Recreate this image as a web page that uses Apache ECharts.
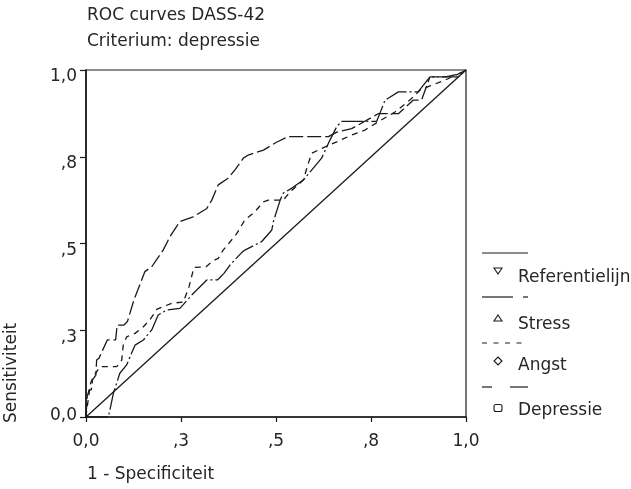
<!DOCTYPE html>
<html><head><meta charset="utf-8">
<script src="https://cdn.jsdelivr.net/npm/echarts@6/dist/echarts.min.js"></script>
<style>html,body{margin:0;padding:0;background:#fff}#c{width:631px;height:489px}</style>
</head><body><div id="c"></div>
<script>
const titleLines = ['ROC curves DASS-42', 'Criterium: depressie'];
const xAxisName = '1 - Specificiteit';
const yAxisName = 'Sensitiviteit';
const tickValues = [0, 0.25, 0.5, 0.75, 1];
const tickLabels = ['0,0', ',3', ',5', ',8', '1,0'];
const seriesNames = ['Referentielijn', 'Stress', 'Angst', 'Depressie'];

const referentielijn = [[0, 0], [1, 1]];
const stress = [[0,0],[0.059,0],[0.072,0.068],[0.089,0.126],[0.107,0.150],[0.116,0.174],[0.129,0.207],[0.151,0.222],[0.173,0.251],[0.190,0.294],[0.212,0.308],[0.247,0.313],[0.282,0.356],[0.318,0.395],[0.346,0.395],[0.363,0.414],[0.379,0.438],[0.409,0.473],[0.418,0.481],[0.445,0.496],[0.462,0.505],[0.489,0.539],[0.493,0.563],[0.511,0.625],[0.519,0.645],[0.541,0.659],[0.572,0.683],[0.620,0.746],[0.642,0.798],[0.660,0.837],[0.673,0.852],[0.765,0.852],[0.787,0.913],[0.822,0.937],[0.874,0.937],[0.905,0.980],[0.979,0.980],[1,1]];
const angst = [[0,0],[0.002,0.020],[0.012,0.097],[0.019,0.116],[0.037,0.145],[0.081,0.145],[0.094,0.164],[0.098,0.207],[0.107,0.231],[0.129,0.241],[0.151,0.260],[0.168,0.280],[0.187,0.311],[0.226,0.328],[0.256,0.331],[0.271,0.375],[0.284,0.431],[0.316,0.433],[0.334,0.450],[0.348,0.457],[0.361,0.481],[0.383,0.510],[0.397,0.529],[0.418,0.568],[0.442,0.589],[0.467,0.620],[0.480,0.625],[0.519,0.625],[0.537,0.649],[0.572,0.683],[0.585,0.731],[0.594,0.760],[0.620,0.774],[0.660,0.793],[0.700,0.813],[0.734,0.827],[0.768,0.850],[0.813,0.879],[0.853,0.914],[0.879,0.942],[0.905,0.954],[0.945,0.971],[0.979,0.988],[1,1]];
const depressie = [[0,0],[0.003,0.058],[0.008,0.078],[0.014,0.078],[0.017,0.107],[0.026,0.121],[0.028,0.164],[0.034,0.169],[0.056,0.222],[0.078,0.222],[0.082,0.265],[0.100,0.265],[0.109,0.275],[0.126,0.337],[0.155,0.419],[0.173,0.433],[0.203,0.481],[0.221,0.520],[0.247,0.563],[0.282,0.577],[0.318,0.601],[0.331,0.625],[0.348,0.669],[0.374,0.688],[0.392,0.712],[0.414,0.746],[0.427,0.755],[0.467,0.769],[0.500,0.791],[0.532,0.808],[0.638,0.808],[0.660,0.821],[0.699,0.831],[0.769,0.874],[0.822,0.874],[0.861,0.913],[0.883,0.913],[0.905,0.980],[0.947,0.980],[0.979,0.988],[1,1]];

const seriesData = [referentielijn, stress, angst, depressie];
const INK = '#1a1a1a';
const TXT = '#262626';
const FONT = 'DejaVu Sans';
const dashes = ['solid', [22, 3, 2, 3], [6, 5], [14, 4]];

const chart = echarts.init(document.getElementById('c'), null, {renderer: 'canvas'});

const labelOf = v => {
  const i = tickValues.findIndex(t => Math.abs(t - v) < 1e-6);
  return i >= 0 ? tickLabels[i] : '';
};
const yFmt = v => (Math.abs(v) < 1e-6 ? '{z|' : '{n|') + labelOf(v) + '}';

// legend drawn with graphic elements
const legendLineY = [253, 297, 343, 387];
const legendMarkY = [271, 318, 361, 408];
const legendTextY = [278, 325, 366, 411];
const lx0 = 482, lx1 = 528, mx = 498, tx = 518;
const legendGraphics = [];
seriesNames.forEach((name, i) => {
  const y = legendLineY[i];
  if (i === 0) {
    legendGraphics.push({type: 'line', shape: {x1: lx0, y1: y, x2: lx1, y2: y}, style: {stroke: INK, lineWidth: 1.2}});
  } else if (i === 1) {
    legendGraphics.push({type: 'line', shape: {x1: lx0, y1: y, x2: 513, y2: y}, style: {stroke: INK, lineWidth: 1.2}});
    legendGraphics.push({type: 'line', shape: {x1: 523, y1: y, x2: lx1, y2: y}, style: {stroke: INK, lineWidth: 1.2}});
  } else if (i === 2) {
    legendGraphics.push({type: 'line', shape: {x1: lx0, y1: y, x2: lx1, y2: y}, style: {stroke: INK, lineWidth: 1.2, lineDash: [5, 6.5]}});
  } else {
    legendGraphics.push({type: 'line', shape: {x1: lx0, y1: y, x2: 492, y2: y}, style: {stroke: INK, lineWidth: 1.2}});
    legendGraphics.push({type: 'line', shape: {x1: 510, y1: y, x2: lx1, y2: y}, style: {stroke: INK, lineWidth: 1.2}});
  }
  const my = legendMarkY[i];
  let pts;
  if (i === 0) pts = [[mx - 4, my - 3], [mx + 4, my - 3], [mx, my + 3]];
  else if (i === 1) pts = [[mx - 4, my + 3], [mx + 4, my + 3], [mx, my - 3]];
  else if (i === 2) pts = [[mx, my - 4], [mx + 4, my], [mx, my + 4], [mx - 4, my]];
  if (i < 3) {
    legendGraphics.push({type: 'polygon', shape: {points: pts}, style: {fill: '#fff', stroke: INK, lineWidth: 1.1}});
  } else {
    legendGraphics.push({type: 'rect', shape: {x: mx - 4, y: my - 3.5, width: 8, height: 7, r: 2}, style: {fill: '#fff', stroke: INK, lineWidth: 1.1}});
  }
  legendGraphics.push({type: 'text', x: tx, y: legendTextY[i], style: {text: name, fill: TXT, font: '17px "' + FONT + '"', textAlign: 'left', textVerticalAlign: 'middle'}});
});

const option = {
  animation: false,
  backgroundColor: '#fff',
  textStyle: {fontFamily: FONT},
  grid: {left: 86, top: 70, width: 380, height: 347, show: true, borderColor: INK, borderWidth: 1.2, backgroundColor: 'transparent'},
  xAxis: {
    type: 'value', min: 0, max: 1, interval: 0.25,
    axisLine: {show: true, lineStyle: {color: INK, width: 1.6}},
    axisTick: {show: true, length: 5, lineStyle: {color: INK, width: 1.2}},
    splitLine: {show: false},
    axisLabel: {formatter: labelOf, color: TXT, fontSize: 17, fontFamily: FONT, margin: 16}
  },
  yAxis: {
    type: 'value', min: 0, max: 1, interval: 0.25,
    axisLine: {show: true, lineStyle: {color: INK, width: 1.6}},
    axisTick: {show: true, length: 6, lineStyle: {color: INK, width: 1.2}},
    splitLine: {show: false},
    axisLabel: {
      formatter: yFmt, color: TXT, fontSize: 17, fontFamily: FONT, margin: 9,
      rich: {
        n: {color: TXT, fontSize: 17, fontFamily: FONT, padding: [14, 0, 0, 0]},
        z: {color: TXT, fontSize: 17, fontFamily: FONT, padding: [0, 0, 2, 0]}
      }
    }
  },
  graphic: [
    {type: 'text', x: 87, y: 16, style: {text: titleLines[0], fill: TXT, font: '17px "' + FONT + '"', textAlign: 'left', textVerticalAlign: 'middle'}},
    {type: 'text', x: 87, y: 42, style: {text: titleLines[1], fill: TXT, font: '17px "' + FONT + '"', textAlign: 'left', textVerticalAlign: 'middle'}},
    {type: 'text', x: 87, y: 475, style: {text: xAxisName, fill: TXT, font: '17px "' + FONT + '"', textAlign: 'left', textVerticalAlign: 'middle'}},
    {type: 'text', x: 12, y: 423, rotation: Math.PI / 2, style: {text: yAxisName, fill: TXT, font: '17px "' + FONT + '"', textAlign: 'left', textVerticalAlign: 'middle'}}
  ].concat(legendGraphics),
  series: seriesNames.map((name, i) => ({
    name: name,
    type: 'line',
    data: seriesData[i],
    showSymbol: false,
    symbol: 'none',
    silent: true,
    z: 3 + i,
    lineStyle: {color: INK, width: 1.3, type: dashes[i]}
  }))
};
chart.setOption(option);
</script>
</body></html>
